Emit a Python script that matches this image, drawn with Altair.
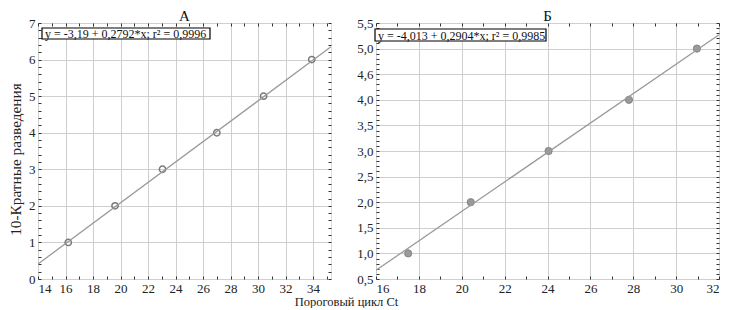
import altair as alt
import pandas as pd

# ---------------- data ----------------
# Panel A
a_ct = [16.2, 19.6, 23.05, 27.0, 30.4, 33.9]
a_dil = [1, 2, 3, 4, 5, 6]
a_fit_x = [14.0, 35.3]
a_fit_y = [0.41, 6.35]
a_eq = "y = -3,19 + 0,2792*x; r² = 0,9996"
a_x_major = [14, 16, 18, 20, 22, 24, 26, 28, 30, 32, 34]
a_y_major = [0, 1, 2, 3, 4, 5, 6, 7]
a_y_labels = ["0", "1", "2", "3", "4", "5", "6", "7"]

# Panel B
b_ct = [17.5, 20.42, 24.05, 27.8, 30.97]
b_dil = [1, 2, 3, 4, 5]
b_fit_x = [16.0, 32.0]
b_fit_y = [0.67, 5.27]
b_eq = "y = -4,013 + 0,2904*x; r² = 0,9985"
b_x_major = [16, 18, 20, 22, 24, 26, 28, 30, 32]
b_y_major = [0.5, 1.0, 1.5, 2.0, 2.5, 3.0, 3.5, 4.0, 4.5, 5.0, 5.5]
b_y_labels = ["0,5", "1,0", "1,5", "2,0", "2,5", "3,0", "3,5", "4,0", "4,6", "5,0", "5,5"]

FONT = "Liberation Serif"
GRID = "#cfcfcf"


def minor(lo, hi, step):
    n = int(round((hi - lo) / step))
    return [round(lo + i * step, 4) for i in range(n + 1)]


def label_expr(majors, labels):
    m = "[" + ",".join(str(v) for v in majors) + "]"
    l = "[" + ",".join("'" + s + "'" for s in labels) + "]"
    return f"indexof({m}, datum.value) >= 0 ? {l}[indexof({m}, datum.value)] : ''"


def grid_test(majors):
    m = "[" + ",".join(str(v) for v in majors) + "]"
    return f"indexof({m}, datum.value) >= 0"


def panel(title, ct, dil, fx, fy, eq, xdom, ydom, xmaj, xminor, ymaj, ylabels, yminor,
          w, h, filled, ytitle, xtitle, box):
    pts = pd.DataFrame({"ct": ct, "dil": dil})
    fit = pd.DataFrame({"ct": fx, "dil": fy})
    xs = alt.Scale(domain=xdom, nice=False, zero=False)
    ys = alt.Scale(domain=ydom, nice=False, zero=False)
    xlabels = [str(v) for v in xmaj]

    x_bottom = alt.Axis(
        orient="bottom", values=xminor, offset=-3, tickSize=3, domain=False,
        labelExpr=label_expr(xmaj, xlabels), labelPadding=3,
        grid=True, gridColor=GRID,
        gridOpacity=alt.condition(grid_test(xmaj), alt.value(1), alt.value(0)),
        tickColor="#333", labelFont=FONT, labelFontSize=13, labelColor="#222",
        title=xtitle if xtitle else None, titleFont=FONT, titleFontSize=12.5,
        titleFontWeight="normal", titleColor="#222", titlePadding=0,
        **({"titleX": 308, "titleAlign": "center"} if xtitle else {}),
    )
    y_left = alt.Axis(
        orient="left", values=yminor, offset=-3, tickSize=3, domain=False,
        labelExpr=label_expr(ymaj, ylabels), labelPadding=3,
        grid=True, gridColor=GRID,
        gridOpacity=alt.condition(grid_test(ymaj), alt.value(1), alt.value(0)),
        tickColor="#333", labelFont=FONT, labelFontSize=13, labelColor="#222",
        title=ytitle if ytitle else None, titleFont=FONT, titleFontSize=15.3,
        titleFontWeight="normal", titleColor="#222", titlePadding=5,
        **({"titleY": 136} if ytitle else {}),
    )
    x_top = alt.Axis(orient="top", values=xminor, offset=-3, tickSize=3, domain=False,
                     labels=False, grid=False, tickColor="#333", title=None)
    y_right = alt.Axis(orient="right", values=yminor, offset=-3, tickSize=3, domain=False,
                       labels=False, grid=False, tickColor="#333", title=None)

    if filled:
        pmark = alt.Chart(pts).mark_circle(size=52, color="#9a9a9a", stroke="#858585",
                                           strokeWidth=1, opacity=1)
    else:
        pmark = alt.Chart(pts).mark_point(size=40, filled=False, color="#7a7a7a",
                                          strokeWidth=1.5, opacity=1)
    p = pmark.encode(
        x=alt.X("ct:Q", scale=xs, axis=x_bottom),
        y=alt.Y("dil:Q", scale=ys, axis=y_left),
    )
    ln = alt.Chart(fit).mark_line(color="#9a9a9a", strokeWidth=1.3, clip=True).encode(
        x=alt.X("ct:Q", scale=xs, axis=x_top),
        y=alt.Y("dil:Q", scale=ys, axis=y_right),
    )
    bx0, bx1, by0, by1 = box
    rect = alt.Chart(pd.DataFrame({"t": [eq]})).mark_rect(
        fill="white", stroke="black", strokeWidth=1.2
    ).encode(x=alt.value(bx0), x2=alt.value(bx1), y=alt.value(by0), y2=alt.value(by1))
    txt = alt.Chart(pd.DataFrame({"t": [eq]})).mark_text(
        font=FONT, fontSize=12, align="left", baseline="middle", color="#111"
    ).encode(x=alt.value(bx0 + 3), y=alt.value((by0 + by1) / 2 + 0.5), text="t:N")

    return alt.layer(p, ln, rect, txt).resolve_axis(x="independent", y="independent").properties(
        width=w, height=h,
        title=alt.TitleParams(title, font=FONT, fontSize=15, fontWeight="normal",
                              color="#111", offset=-7),
    )


left = panel("А", a_ct, a_dil, a_fit_x, a_fit_y, a_eq, [14, 35.3], [0, 7],
             a_x_major, minor(14, 35, 1), a_y_major, a_y_labels, minor(0, 7, 0.2),
             293, 256, False, "10-Кратные разведения", "Пороговый цикл Ct",
             (4, 172, 5, 16))
right = panel("Б", b_ct, b_dil, b_fit_x, b_fit_y, b_eq, [16, 32], [0.5, 5.5],
              b_x_major, minor(16, 32, 1), b_y_major, b_y_labels, minor(0.5, 5.5, 0.1),
              343, 256, True, None, None, (-1, 170, 6, 18))

chart = alt.hconcat(left, right, spacing=45, bounds="flush").properties(
    padding={"left": 0, "top": 0, "right": 0, "bottom": 0}
).configure_view(stroke="black", strokeWidth=2).configure(background="white")

chart.save("out.html", embed_options={"renderer": "svg", "actions": False})
